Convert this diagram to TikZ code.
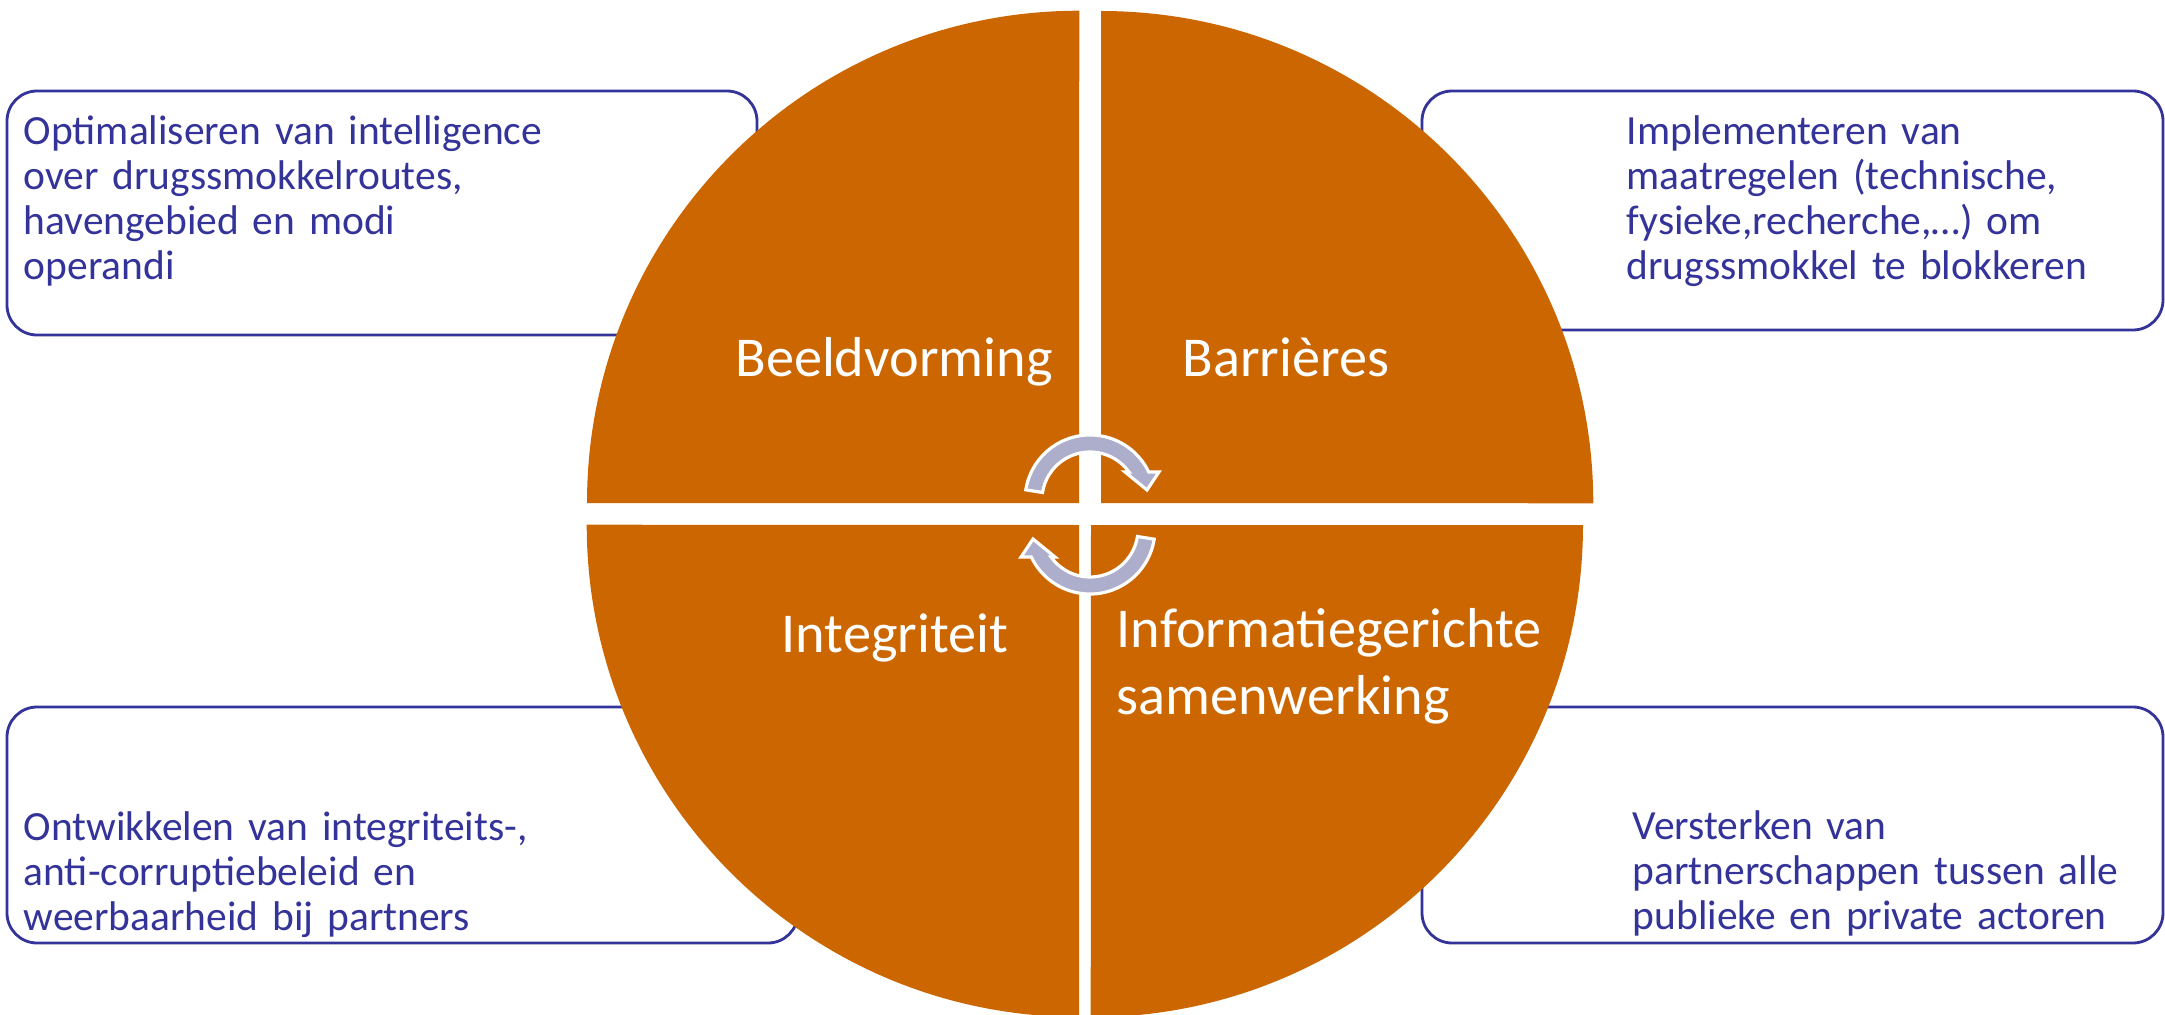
\documentclass[tikz,border=0pt]{standalone}
\usepackage{fontspec}
\setmainfont{Carlito}
\definecolor{quadorange}{HTML}{CC6600}
\definecolor{textblue}{HTML}{333399}
\definecolor{arrowgrey}{RGB}{172,174,204}
\tikzset{
  callout/.style={draw=textblue, line width=0.8pt, rounded corners=0.3cm},
  quadrant/.style={fill=quadorange},
  quadlabel/.style={text=white, font=\fontsize{16}{19.3}\selectfont, inner sep=0pt},
  notetext/.style={text=textblue, font=\fontsize{11.8}{12.8}\selectfont, inner sep=0pt,
    align=left, text width=6.8cm},
  cyclearrow/.style={fill=arrowgrey, draw=white, line width=0.9pt},
}
\begin{document}
\begin{tikzpicture}[x=0.01cm, y=0.01cm]
  \useasboundingbox (0,0) rectangle (2165,-1015);
  \clip (0,0) rectangle (2165,-1015);

  % callout boxes, behind the circle
  \draw[callout] (7,-91) rectangle (757,-335);
  \draw[callout] (1422,-91) rectangle (2163,-330);
  \draw[callout] (7,-707) rectangle (798,-943);
  \draw[callout] (1422,-707) rectangle (2163,-943);

  % the four quadrants
  \fill[quadrant] (1079,-503) -- (587,-503) arc[start angle=180, end angle=90, radius=4.92cm] -- cycle;
  \fill[quadrant] (1101,-503) -- (1101,-11) arc[start angle=90, end angle=0, radius=4.92cm] -- cycle;
  \fill[quadrant] (1079,-525) -- (1079,-1017) arc[start angle=270, end angle=180, radius=4.92cm] -- cycle;
  \fill[quadrant] (1091,-525) -- (1583,-525) arc[start angle=0, end angle=-90, radius=4.92cm] -- cycle;

  % quadrant labels
  \node[quadlabel, anchor=base] (beeld) at (894,-376) {Beeldvorming};
  \node[quadlabel, anchor=base] (barr) at (1286,-376) {Barrières};
  \node[quadlabel, anchor=base] (integ) at (895,-652) {Integriteit};
  \node[quadlabel, anchor=base west, align=left, text width=5cm] (info) at (1116,-647)
    {Informatiegerichte\\samenwerking};

  % texts in the callouts
  \node[notetext, anchor=base west] (optim) at (23,-144)
    {Optimaliseren van intelligence\\over drugssmokkelroutes,\\havengebied en modi\\operandi};
  \node[notetext, anchor=base west] (impl) at (1626,-144)
    {Implementeren van\\maatregelen (technische,\\fysieke,recherche,…) om\\drugssmokkel te blokkeren};
  \node[notetext, anchor=base west] (ontw) at (23,-840)
    {Ontwikkelen van integriteits-,\\anti-corruptiebeleid en\\weerbaarheid bij partners};
  \node[notetext, anchor=base west] (verst) at (1632,-839)
    {Versterken van\\partnerschappen tussen alle\\publieke en private actoren};

  % cycle arrows in the middle
  \foreach \cy/\rot in {500/0, 529/180} {
    \begin{scope}[shift={(1090,-\cy)}, rotate=\rot]
      \draw[cyclearrow] (171:65) arc[start angle=171, end angle=25.5, radius=0.65cm]
        -- (69,28) -- (57,10) -- (35,28) -- (35.7:48)
        arc[start angle=35.7, end angle=171, radius=0.48cm] -- cycle;
    \end{scope}
  }
\end{tikzpicture}
\end{document}
